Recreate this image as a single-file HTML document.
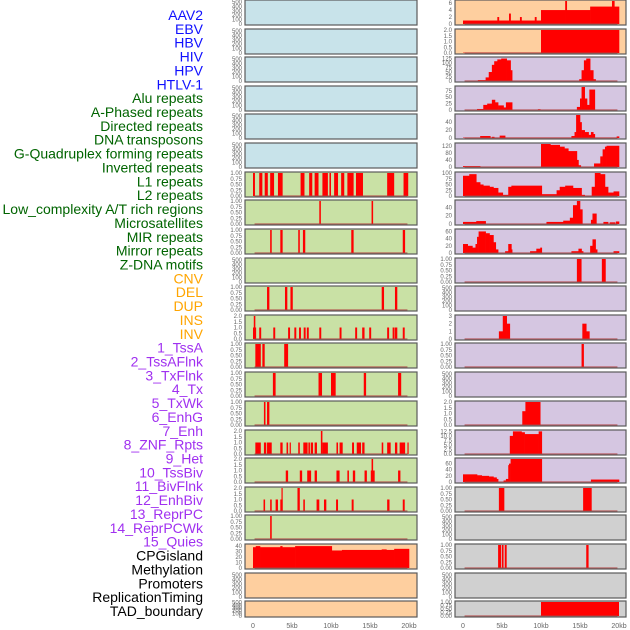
<!DOCTYPE html>
<html><head><meta charset="utf-8">
<style>
html,body{margin:0;padding:0;background:#fff;}
svg{display:block;font-family:"Liberation Sans",sans-serif;}
</style></head>
<body>
<svg id="chart" width="630" height="630" viewBox="0 0 630 630"></svg>
<script>
// ---------- labels ----------
const labelTexts=["AAV2","EBV","HBV","HIV","HPV","HTLV-1","Alu repeats","A-Phased repeats","Directed repeats","DNA transposons","G-Quadruplex forming repeats","Inverted repeats","L1 repeats","L2 repeats","Low_complexity A/T rich regions","Microsatellites","MIR repeats","Mirror repeats","Z-DNA motifs","CNV","DEL","DUP","INS","INV","1_TssA","2_TssAFlnk","3_TxFlnk","4_Tx","5_TxWk","6_EnhG","7_Enh","8_ZNF_Rpts","9_Het","10_TssBiv","11_BivFlnk","12_EnhBiv","13_ReprPC","14_ReprPCWk","15_Quies","CPGisland","Methylation","Promoters","ReplicationTiming","TAD_boundary"];
const labelGroups=[0,0,0,0,0,0,1,1,1,1,1,1,1,1,1,1,1,1,1,2,2,2,2,2,3,3,3,3,3,3,3,3,3,3,3,3,3,3,3,4,4,4,4,4];
const xTickLabels=["0","5kb","10kb","15kb","20kb"];
const xTickValues=[0,5,10,15,20];

// ---------- tick label sets ----------
const t500=["0","100","200","300","400","500"];
const t1=["0.00","0.25","0.50","0.75","1.00"];
const t2=["0.0","0.5","1.0","1.5","2.0"];
const tAAV=["0","2","4","6"];
const tHIV=["0","25","50","75","100","125"];
const tP4=["0","25","50","75"];
const tP5=["0","20","40"];
const tP6=["0","40","80","120"];
const tP7=["0","25","50","75","100"];
const tP9=["0","20","40","60"];
const tP12=["0","1","2","3"];
const tP16=["0.0","2.5","5.0","7.5","10.0","12.5"];
const tP20=["0","10","20","30","40"];

// ---------- column 1 data (bars: start kb, end kb, height) ----------
const c1p7Starts=[0,0.8,1.5,2.2,3.2,6.1,7.2,7.9,8.9,9.8,10.4,11.3,12.1,13.2,17.2,19.3];
const c1p7Ends=[0.25,1.2,1.9,2.7,3.8,6.6,7.6,8.4,9.6,10.0,10.9,11.7,12.9,14.1,18.1,19.9];
const c1p7Heights=[1,1,1,1,1,1,1,1,1,1,1,1,1,1,1,1];
const c1p8Starts=[8.5,15.2];
const c1p8Ends=[8.7,15.4];
const c1p8Heights=[1,1];
const c1p9Starts=[2.2,3.5,5.8,6.4,12.6,19.2];
const c1p9Ends=[2.4,3.8,6.0,6.7,12.9,19.5];
const c1p9Heights=[1,1,1,1,1,1];
const c1p11Starts=[1.8,4.1,4.8,16.5,18.2];
const c1p11Ends=[2.1,4.4,5.1,16.8,18.5];
const c1p11Heights=[1,1,1,1,1];
const c1p12Starts=[0.0,0.1,0.8,2.6,4.5,5.3,5.9,6.5,6.9,8.5,11.1,13.1,14.0,14.9,17.2,17.9,18.2,19.2];
const c1p12Ends=[0.4,0.3,1.05,2.85,4.75,5.55,6.15,6.75,7.15,8.75,11.35,13.35,14.3,15.15,17.45,18.15,18.5,19.45];
const c1p12Heights=[1,2,1,1,1,1,1,1,1,1,1,1,1,1,1,1,1,1];
const c1p13Starts=[0.3,1.2,4.0];
const c1p13Ends=[1.0,1.5,4.5];
const c1p13Heights=[1,1,1];
const c1p14Starts=[2.55,8.4,10.0,14.2,18.6];
const c1p14Ends=[2.9,8.85,10.6,14.5,19.0];
const c1p14Heights=[1,1,1,1,1];
const c1p15Starts=[1.4,1.8];
const c1p15Ends=[1.6,2.1];
const c1p15Heights=[1,1];
const c1p16Starts=[0.3,1.4,1.8,3.5,4.3,4.7,5.8,6.45,7.1,7.4,7.9,8.7,8.9,10.7,11.1,12.7,13.3,14.0,16.5,17.2,18.2,18.8,19.8];
const c1p16Ends=[1.0,1.7,2.4,3.8,4.5,4.85,6.0,7.0,7.3,7.7,8.2,8.9,9.6,10.9,11.5,12.95,13.85,14.3,16.7,17.65,18.5,19.5,19.95];
const c1p16Heights=[1,1,1,1,1,1,1,1,1,1,1,2,1,1,1,1,1,1,1,1,1,1,1];
const c1p17Starts=[4.2,6.0,6.95,7.9,10.7,12.1,12.8,14.3,15.1,15.2,18.6];
const c1p17Ends=[4.5,6.3,7.45,8.2,11.1,12.3,13.1,14.6,15.6,15.4,18.9];
const c1p17Heights=[1,1,1,1,1,1,1,1,1,2,1];
const c1p18Starts=[1.35,2.2,2.9,3.5,3.65,5.7,6.45,8.15,9.1,10.65,12.65,17.2,19.2];
const c1p18Ends=[1.55,2.4,3.2,3.8,3.8,6.0,6.65,8.5,9.4,10.9,12.9,17.5,19.45];
const c1p18Heights=[1,1,1,1,2,2,1,1,1,1,1,1,1];
const c1p19Starts=[2.2];
const c1p19Ends=[2.4];
const c1p19Heights=[1];
const c1p20Starts=[0,0.35,0.9,3.5,3.75,5.4,10.1,11.4,16.5,17.1,18.1,20];
const c1p20Vals=[38,40,38,40,38,40,32,33,34,33,35,0];

// ---------- column 2 data (step series: start kb, value) ----------
const c2p1Starts=[0,4.4,4.6,5.9,6.1,7.3,7.5,9.2,9.4,10,13.1,13.3,16.3,19.1,19.4,20];
const c2p1Vals=[1,2,1,3,1,2,1,2,1,4,6.6,4,5,6.6,5,0];
const c2p2Starts=[0,10,20];
const c2p2Vals=[0.03,2,0];
const c2p3Starts=[0,1.9,2.9,3.3,3.7,4.0,4.4,4.9,5.6,6.1,6.3,14.9,15.2,15.5,15.8,16.3,16.7,17.0];
const c2p3Vals=[0,5,20,50,90,110,120,125,115,60,0,10,60,115,125,60,10,0];
const c2p4Starts=[0,1.8,2.6,3.1,3.7,4.1,4.5,5.2,5.5,6.3,9.6,9.9,14.6,15.0,15.2,15.6,15.9,16.2,16.9];
const c2p4Vals=[0,4,20,25,40,30,18,10,30,0,3,0,12,45,90,45,20,80,0];
const c2p5Starts=[0,2.2,3.5,3.7,4.0,4.7,5.4,13.9,14.3,14.5,15.0,15.2,15.6,16.1,16.4,16.7,16.9,19.7,20];
const c2p5Vals=[1,5,1,3,1,6,1,5,15,58,40,20,15,8,15,10,1,4,0];
const c2p6Starts=[0,2.2,10,11.2,12.4,13.0,13.5,14.6,14.8,15.1,15.6,16.8,17.6,17.9,18.2,18.4,20];
const c2p6Vals=[5,0,130,125,115,105,90,40,10,0,0,20,60,100,115,120,0];
const c2p7Starts=[0,0.8,1.7,2.2,2.6,3.4,3.9,4.5,5.1,5.8,6.2,10.1,12.0,12.4,13.1,14.1,15.2,15.6,16.5,16.9,17.6,18.2,18.6,19.3,20];
const c2p7Vals=[88,95,60,50,45,40,35,15,5,40,45,8,25,40,45,35,5,0,40,100,95,40,15,20,0];
const c2p8Starts=[0,1.7,2.9,10.7,12.85,13.7,14.1,14.6,15.0,15.3,16.4,16.6,17.1,18.0,18.6,18.8,19.5,19.6,20];
const c2p8Vals=[5,7,0,5,8,15,45,55,35,0,10,25,0,5,0,4,0,6,0];
const c2p9Starts=[0,0.6,1.2,1.6,1.8,2.0,2.9,3.4,3.9,4.2,4.5,5.4,5.8,6.2,6.3,8.6,9.4,9.9,10.1,13.9,14.8,15.2,15.4,16.3,16.6,17.0,17.2,19.3,20];
const c2p9Vals=[25,20,15,25,45,60,55,50,30,10,0,5,25,10,0,5,12,15,0,5,12,5,0,20,38,10,0,5,0];
const c2p10Starts=[14.6,17.8];
const c2p10Ends=[15.2,18.3];
const c2p10Heights=[1,1];
const c2p12Starts=[0,4.6,5.1,5.6,6.0,15.3,15.8,16.2];
const c2p12Vals=[0,1,3,2,0,2,1,0];
const c2p13Starts=[15.2];
const c2p13Ends=[15.5];
const c2p13Heights=[1];
const c2p15Starts=[0,7.6,8.0,9.9];
const c2p15Vals=[0,1.2,2,0];
const c2p16Starts=[0,6.0,6.4,7.5,7.9,9.7,10.1];
const c2p16Vals=[0,10,12.5,12,11,12.5,0];
const c2p17Starts=[0,1.8,2.4,3.3,3.9,4.3,4.5,5.2,5.5,5.8,5.9,6.1,10.1,16.4,20];
const c2p17Vals=[25,22,20,18,15,10,0,5,10,55,60,75,0,8,0];
const c2p18Starts=[4.6,15.4];
const c2p18Ends=[5.3,16.5];
const c2p18Heights=[1,1];
const c2p20Starts=[4.5,5.0,5.35,15.8];
const c2p20Ends=[4.9,5.2,5.6,16.1];
const c2p20Heights=[1,1,1,1];
const c2p22Starts=[10];
const c2p22Ends=[20];
const c2p22Heights=[1];

// ---------- layout ----------
const NS="http://www.w3.org/2000/svg";
const svg=document.getElementById('chart');
const panelTops=[0,29,57,86,114,143,172,200,229,258,286,315,343,372,401,430,458,487,515,544,573,601];
const cols=[{x0:245,x1:417,ox:253},{x0:455,x1:626,ox:463}];
const KB=7.8;
const BLUE="#c8e3ea",GREEN="#c9e1a5",ORANGE="#fecf9f",PURPLE="#d5c6e1",GRAY="#d0d0d0";
const labelColors=["#1010ff","#006400","#ffa500","#a030f0","#000000"];

function mk(tag,attrs,parent){const e=document.createElementNS(NS,tag);for(const k in attrs)e.setAttribute(k,attrs[k]);(parent||svg).appendChild(e);return e;}

const panels=[];
for(let i=0;i<22;i++){
  panels.push([
    {bg:i<6?BLUE:(i<19?GREEN:ORANGE),ticks:t500,ymax:525},
    {bg:i<2?ORANGE:(i<17?PURPLE:GRAY),ticks:t500,ymax:525}
  ]);
}
function setP(c,i,o){Object.assign(panels[i][c],o);}
setP(0,6,{ticks:t1,ymax:1,bars:[c1p7Starts,c1p7Ends,c1p7Heights]});
setP(0,7,{ticks:t1,ymax:1,bars:[c1p8Starts,c1p8Ends,c1p8Heights]});
setP(0,8,{ticks:t1,ymax:1,bars:[c1p9Starts,c1p9Ends,c1p9Heights]});
setP(0,10,{ticks:t1,ymax:1,bars:[c1p11Starts,c1p11Ends,c1p11Heights]});
setP(0,11,{ticks:t2,ymax:2,bars:[c1p12Starts,c1p12Ends,c1p12Heights]});
setP(0,12,{ticks:t1,ymax:1,bars:[c1p13Starts,c1p13Ends,c1p13Heights]});
setP(0,13,{ticks:t1,ymax:1,bars:[c1p14Starts,c1p14Ends,c1p14Heights]});
setP(0,14,{ticks:t1,ymax:1,bars:[c1p15Starts,c1p15Ends,c1p15Heights]});
setP(0,15,{ticks:t2,ymax:2,bars:[c1p16Starts,c1p16Ends,c1p16Heights]});
setP(0,16,{ticks:t2,ymax:2,bars:[c1p17Starts,c1p17Ends,c1p17Heights]});
setP(0,17,{ticks:t2,ymax:2,bars:[c1p18Starts,c1p18Ends,c1p18Heights]});
setP(0,18,{ticks:t1,ymax:1,bars:[c1p19Starts,c1p19Ends,c1p19Heights]});
setP(0,19,{ticks:tP20,ymax:42,steps:[c1p20Starts,c1p20Vals]});
setP(1,0,{ticks:tAAV,ymax:6.6,steps:[c2p1Starts,c2p1Vals]});
setP(1,1,{ticks:t2,ymax:2,steps:[c2p2Starts,c2p2Vals]});
setP(1,2,{ticks:tHIV,ymax:128,steps:[c2p3Starts,c2p3Vals]});
setP(1,3,{ticks:tP4,ymax:90,steps:[c2p4Starts,c2p4Vals]});
setP(1,4,{ticks:tP5,ymax:58,steps:[c2p5Starts,c2p5Vals]});
setP(1,5,{ticks:tP6,ymax:130,steps:[c2p6Starts,c2p6Vals]});
setP(1,6,{ticks:tP7,ymax:100,steps:[c2p7Starts,c2p7Vals]});
setP(1,7,{ticks:tP5,ymax:55,steps:[c2p8Starts,c2p8Vals]});
setP(1,8,{ticks:tP9,ymax:64,steps:[c2p9Starts,c2p9Vals]});
setP(1,9,{ticks:t1,ymax:1,bars:[c2p10Starts,c2p10Ends,c2p10Heights]});
setP(1,11,{ticks:tP12,ymax:3,steps:[c2p12Starts,c2p12Vals]});
setP(1,12,{ticks:t1,ymax:1,bars:[c2p13Starts,c2p13Ends,c2p13Heights]});
setP(1,14,{ticks:t2,ymax:2,steps:[c2p15Starts,c2p15Vals]});
setP(1,15,{ticks:tP16,ymax:12.7,steps:[c2p16Starts,c2p16Vals]});
setP(1,16,{ticks:tP9,ymax:75,steps:[c2p17Starts,c2p17Vals]});
setP(1,17,{ticks:t1,ymax:1,bars:[c2p18Starts,c2p18Ends,c2p18Heights]});
setP(1,19,{ticks:t1,ymax:1,bars:[c2p20Starts,c2p20Ends,c2p20Heights]});
setP(1,21,{ticks:t1,ymax:1,bars:[c2p22Starts,c2p22Ends,c2p22Heights]});

// labels
labelTexts.forEach((t,i)=>{
  const e=mk('text',{x:203,y:15+i*13.86+5,'text-anchor':'end','font-size':14,fill:labelColors[labelGroups[i]]});
  
  
  e.textContent=t;
});

panels.forEach((row,i)=>{
  row.forEach((p,c)=>{
    const col=cols[c];
    const top=panelTops[i], h=(i===21?16:25), bot=top+h;
    const g=mk('g',{});
    
    
    const bg=mk('rect',{x:col.x0,y:top,width:col.x1-col.x0,height:h,fill:p.bg},g);
    
    
    const y0=bot-1, y1=top+1;
    const ys=v=>y0-(v/p.ymax)*(y0-y1);
    const xs=k=>col.ox+k*KB;
    // ticks
    p.ticks.forEach(t=>{
      const v=parseFloat(t);
      const tl=mk('text',{x:col.x0-3,y:ys(v)+2,'text-anchor':'end','font-size':6,fill:'#666'},g);
      
      
      tl.textContent=t;
    });
    const hasData=p.bars||p.steps;
    if(p.steps){
      const [st,vl]=p.steps;
      for(let k=0;k<st.length-1;k++){
        if(vl[k]<=0)continue;
        const r=mk('rect',{x:xs(st[k]),y:ys(vl[k]),width:Math.max(0.5,xs(st[k+1])-xs(st[k])+0.3),height:y0-ys(vl[k]),fill:'#ff0000'},g);
        
        
      }
    }
    if(p.bars){
      const [st,en,hh]=p.bars;
      for(let k=0;k<st.length;k++){
        const r=mk('rect',{x:xs(st[k]),y:ys(hh[k]),width:Math.max(1.2,xs(en[k])-xs(st[k])),height:y0-ys(hh[k]),fill:'#ff0000'},g);
        
        
      }
    }
    if(hasData){
      const bl=mk('line',{x1:xs(0.2),x2:xs(19.8),y1:y0,y2:y0,stroke:'#b04040','stroke-width':1.2,'stroke-opacity':0.8},g);
      
      
    }
    const fr=mk('rect',{x:col.x0,y:top,width:col.x1-col.x0,height:h,fill:'none',stroke:'#5a5a5a','stroke-width':1.2},g);
    
    
  });
});

// x axes
cols.forEach((col,c)=>{
  xTickValues.forEach((v,k)=>{
    const t=mk('text',{x:col.ox+v*KB,y:628,'text-anchor':'middle','font-size':7,fill:'#666'});
    
    
    t.textContent=xTickLabels[k];
  });
});
</script>
</body></html>
